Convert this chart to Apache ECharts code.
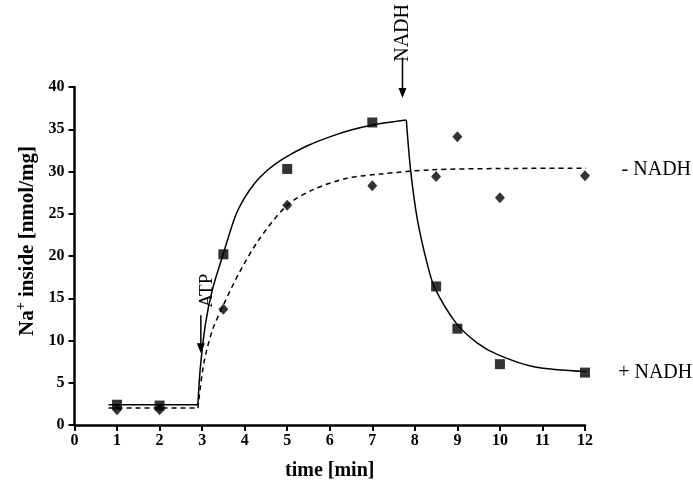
<!DOCTYPE html>
<html>
<head>
<meta charset="utf-8">
<script src="https://cdn.jsdelivr.net/npm/echarts@6/dist/echarts.min.js"></script>
<style>
  html, body { margin: 0; padding: 0; background: #fff; }
  #chart { width: 693px; height: 489px; }
</style>
</head>
<body>
<div id="chart"></div>
<script>
// measured points
const timePts = [1, 2, 3.5, 5, 7, 8.5, 9, 10, 12]
const plusNadh = [2.4, 2.3, 20.2, 30.3, 35.8, 16.4, 11.4, 7.2, 6.2]
const minusNadh = [1.8, 1.8, 13.7, 26.0, 28.3, 29.4, 34.1, 26.9, 29.5]

// fitted curves as [time, value]
const plusFlat = [[0.8, 2.4], [2.9, 2.4]]
const plusRise = [[2.9, 2.4], [2.96, 6.9], [3.08, 12.0], [3.24, 16.0], [3.5, 20.3], [3.78, 24.7],
  [4.0, 26.9], [4.25, 28.7], [4.5, 30.0], [4.75, 31.0], [5.0, 31.8], [5.5, 33.1], [6.0, 34.1],
  [6.5, 34.9], [7.0, 35.5], [7.5, 35.9], [7.8, 36.1]]
const plusDecay = [[7.8, 36.1], [7.9, 30.2], [8.06, 24.3], [8.29, 19.1], [8.47, 16.2], [8.98, 12.0],
  [9.47, 9.7], [9.96, 8.3], [10.8, 6.9], [12.1, 6.3]]
const minusFlat = [[0.8, 2.0], [2.9, 2.0]]
const minusRise = [[2.9, 2.0], [3.04, 7.3], [3.24, 11.2], [3.5, 14.2], [3.86, 17.9], [4.33, 21.9],
  [5.0, 26.0], [5.63, 27.9], [6.41, 29.2], [7.2, 29.7], [8.37, 30.2], [10.0, 30.35], [12.25, 30.4]]

const xTicks = [0, 1, 2, 3, 4, 5, 6, 7, 8, 9, 10, 11, 12]

const serif = '"Liberation Serif", "DejaVu Serif", serif'
const pair = (xs, ys) => xs.map((x, i) => [x, ys[i]])

const lineSeries = (data, dashed, smooth) => ({
  type: 'line',
  data: data,
  smooth: smooth,
  showSymbol: false,
  silent: true,
  lineStyle: { color: '#000', width: 1.5, type: dashed ? [5, 4] : 'solid' },
  z: 2
})

const axisCommon = {
  axisLine: { show: true, lineStyle: { color: '#000', width: 2.5 } },
  axisTick: { show: true, length: 6, lineStyle: { color: '#000', width: 2 } },
  splitLine: { show: false },
  axisLabel: { color: '#000', fontFamily: serif, fontSize: 16, fontWeight: 'bold' },
  nameTextStyle: { color: '#000', fontFamily: serif, fontSize: 20, fontWeight: 'bold' }
}

const chart = echarts.init(document.getElementById('chart'))
chart.setOption({
  animation: false,
  backgroundColor: '#fff',
  grid: { left: 74.5, right: 108, top: 87, bottom: 64 },
  xAxis: Object.assign({}, axisCommon, {
    type: 'value', min: 0, max: 12, interval: 1,
    name: 'time [min]', nameLocation: 'middle', nameGap: 36,
    axisLabel: Object.assign({}, axisCommon.axisLabel, {
      margin: 8,
      formatter: v => xTicks.indexOf(v) >= 0 ? String(v) : ''
    })
  }),
  yAxis: Object.assign({}, axisCommon, {
    type: 'value', min: 0, max: 40, interval: 5,
    name: '{a|Na}{s|+}{a| inside [nmol/mg]}', nameLocation: 'middle', nameGap: 34,
    nameTextStyle: {
      padding: [0, 0, 0, 30],
      rich: {
        a: { color: '#000', fontFamily: serif, fontSize: 21, fontWeight: 'bold' },
        s: { color: '#000', fontFamily: serif, fontSize: 14, fontWeight: 'bold', padding: [0, 0, 12, 0] }
      }
    },
    axisLabel: Object.assign({}, axisCommon.axisLabel, { margin: 10 })
  }),
  series: [
    lineSeries(plusFlat, false, false),
    lineSeries(plusRise, false, 0.3),
    lineSeries(plusDecay, false, 0.3),
    lineSeries(minusFlat, true, false),
    lineSeries(minusRise, true, 0.3),
    {
      type: 'scatter', data: pair(timePts, plusNadh),
      symbol: 'rect', symbolSize: 10,
      itemStyle: { color: '#000' }, z: 3
    },
    {
      type: 'scatter', data: pair(timePts, minusNadh),
      symbol: 'diamond', symbolSize: [10, 11],
      itemStyle: { color: '#000' }, z: 3
    }
  ]
})

// annotations placed from data coordinates
const px = p => chart.convertToPixel({ gridIndex: 0 }, p)
const arrow = (x, yTop, yTip) => {
  const a = px([x, yTop]), b = px([x, yTip])
  return [
    { type: 'line', shape: { x1: a[0], y1: a[1], x2: b[0], y2: b[1] - 6 },
      style: { stroke: '#000', lineWidth: 1.5 } },
    { type: 'polygon', shape: { points: [[b[0] - 4, b[1] - 10], [b[0] + 4, b[1] - 10], [b[0], b[1]]] },
      style: { fill: '#000' } }
  ]
}
const vText = (x, y, text, size) => {
  const p = px([x, y])
  return {
    type: 'text', x: p[0], y: p[1], rotation: Math.PI / 2,
    style: { text: text, fill: '#000', font: size + 'px ' + serif, align: 'center', verticalAlign: 'middle' }
  }
}
const hText = (x, y, text) => {
  const p = px([x, y])
  return {
    type: 'text', x: p[0], y: p[1],
    style: { text: text, fill: '#000', font: '20px ' + serif, align: 'left', verticalAlign: 'middle' }
  }
}

chart.setOption({
  graphic: [].concat(
    arrow(2.97, 13.0, 8.5),
    arrow(7.71, 43.5, 38.7),
    [
      vText(3.12, 15.9, 'ATP', 19),
      vText(7.71, 46.4, 'NADH', 20),
      hText(12.86, 30.2, '- NADH'),
      hText(12.78, 6.2, '+ NADH')
    ]
  )
})
</script>
</body>
</html>
